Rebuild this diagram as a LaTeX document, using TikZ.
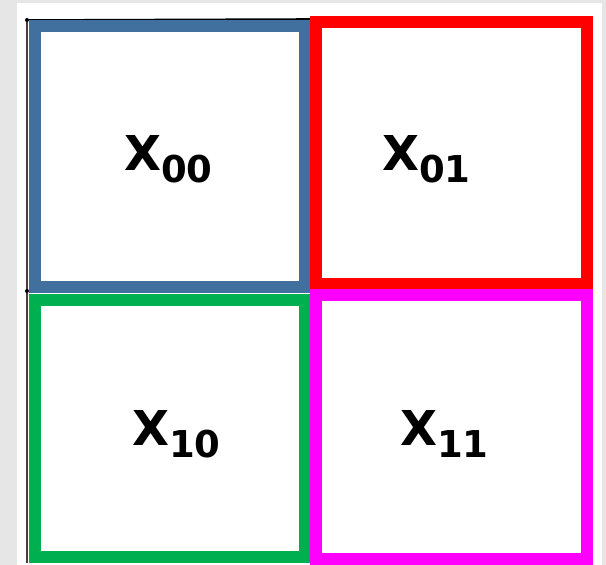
\documentclass[tikz,border=0pt]{standalone}
\usepackage{fontspec}
\setmainfont{DejaVu Sans}
\usepackage{tikz}
\usepackage{xcolor}

\definecolor{cellblue}{RGB}{65,112,158}
\definecolor{cellgreen}{RGB}{0,176,80}
\definecolor{cellred}{RGB}{255,0,0}
\definecolor{cellpink}{RGB}{255,0,255}
\definecolor{pagegray}{RGB}{230,230,230}

\newcommand{\cellsub}[1]{\raisebox{-12pt}{\fontsize{37}{38}\selectfont #1}}

\begin{document}
\begin{tikzpicture}[x=1pt, y=-1pt, line join=miter,
  cell/.style={line width=12pt},
  lbl/.style={anchor=base west, inner sep=0pt, font=\bfseries\fontsize{48}{48}\selectfont}]

% --- page background ---
\useasboundingbox (0,0) rectangle (606,565);
\fill[pagegray] (0,0) rectangle (606,565);
\fill[white] (17,3) rectangle (602,565);

% --- thin frame on the left and top ---
\coordinate (tl) at (27,20);
\coordinate (ml) at (27,291);
\coordinate (bl) at (27,563);
\coordinate (tr) at (310,19);
\draw[black!75, line width=1.2pt] (tl) -- (bl);
\draw[black, line width=1.6pt] (tl) -- (tr);
\fill (tl) circle (2pt);
\fill (ml) circle (2pt);

% --- the four cells ---
\draw[cell, cellblue]  (35,25.5) rectangle (304.5,287);
\draw[cell, cellred]   (316,22)  rectangle (587,283.5);
\draw[cell, cellgreen] (35,299.5) rectangle (305,557);
\draw[cell, cellpink]  (316,294.5) rectangle (587,558.5);

% --- labels ---
\node[lbl] (x00) at (124,170) {X\cellsub{00}};
\node[lbl] (x01) at (382,170) {X\cellsub{01}};
\node[lbl] (x10) at (132,445) {X\cellsub{10}};
\node[lbl] (x11) at (400,445) {X\cellsub{11}};

\end{tikzpicture}
\end{document}
